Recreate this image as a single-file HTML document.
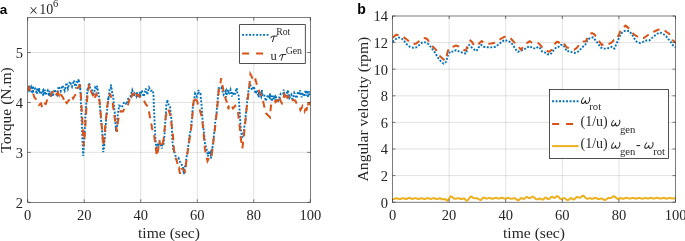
<!DOCTYPE html><html><head><meta charset="utf-8"><style>html,body{margin:0;padding:0;background:#fff;}
svg{display:block;will-change:transform}
.tk{font-family:"Liberation Serif",serif;font-size:14.5px;fill:#262626}
.lab{font-family:"Liberation Serif",serif;font-size:15.6px;fill:#262626}
.sup{font-family:"Liberation Serif",serif;font-size:10px;fill:#262626}
.pl{font-family:"Liberation Sans",sans-serif;font-size:14px;font-weight:bold;fill:#000}
.lgt{font-family:"Liberation Serif",serif;fill:#2a2a2a}
</style></head><body><svg width="685" height="241" viewBox="0 0 685 241">
<rect width="685" height="241" fill="#fff"/>
<defs><clipPath id="cl"><rect x="27.7" y="17.6" width="282.6" height="184.70000000000002"/></clipPath><clipPath id="cr"><rect x="392.5" y="16.0" width="283.0" height="186.2"/></clipPath></defs>
<line x1="84.22" y1="17.60" x2="84.22" y2="202.30" stroke="#262626" stroke-opacity="0.17" stroke-width="0.8"/>
<line x1="140.74" y1="17.60" x2="140.74" y2="202.30" stroke="#262626" stroke-opacity="0.17" stroke-width="0.8"/>
<line x1="197.26" y1="17.60" x2="197.26" y2="202.30" stroke="#262626" stroke-opacity="0.17" stroke-width="0.8"/>
<line x1="253.78" y1="17.60" x2="253.78" y2="202.30" stroke="#262626" stroke-opacity="0.17" stroke-width="0.8"/>
<line x1="27.70" y1="152.38" x2="310.30" y2="152.38" stroke="#262626" stroke-opacity="0.17" stroke-width="0.8"/>
<line x1="27.70" y1="102.46" x2="310.30" y2="102.46" stroke="#262626" stroke-opacity="0.17" stroke-width="0.8"/>
<line x1="27.70" y1="52.54" x2="310.30" y2="52.54" stroke="#262626" stroke-opacity="0.17" stroke-width="0.8"/>
<line x1="449.10" y1="16.00" x2="449.10" y2="202.20" stroke="#262626" stroke-opacity="0.17" stroke-width="0.8"/>
<line x1="505.70" y1="16.00" x2="505.70" y2="202.20" stroke="#262626" stroke-opacity="0.17" stroke-width="0.8"/>
<line x1="562.30" y1="16.00" x2="562.30" y2="202.20" stroke="#262626" stroke-opacity="0.17" stroke-width="0.8"/>
<line x1="618.90" y1="16.00" x2="618.90" y2="202.20" stroke="#262626" stroke-opacity="0.17" stroke-width="0.8"/>
<line x1="392.50" y1="175.60" x2="675.50" y2="175.60" stroke="#262626" stroke-opacity="0.17" stroke-width="0.8"/>
<line x1="392.50" y1="149.00" x2="675.50" y2="149.00" stroke="#262626" stroke-opacity="0.17" stroke-width="0.8"/>
<line x1="392.50" y1="122.40" x2="675.50" y2="122.40" stroke="#262626" stroke-opacity="0.17" stroke-width="0.8"/>
<line x1="392.50" y1="95.80" x2="675.50" y2="95.80" stroke="#262626" stroke-opacity="0.17" stroke-width="0.8"/>
<line x1="392.50" y1="69.20" x2="675.50" y2="69.20" stroke="#262626" stroke-opacity="0.17" stroke-width="0.8"/>
<line x1="392.50" y1="42.60" x2="675.50" y2="42.60" stroke="#262626" stroke-opacity="0.17" stroke-width="0.8"/>
<g clip-path="url(#cl)">
<polyline points="27.5,90.9 29.0,85.1 29.4,90.0 31.0,87.1 31.6,93.2 33.0,86.1 33.2,91.3 35.0,88.6 37.0,94.0 37.1,88.0 39.0,92.1 39.0,88.3 40.5,94.2 43.0,90.5 43.1,95.9 45.0,89.9 45.3,95.0 47.7,90.6 49.0,96.2 49.6,90.9 51.0,96.4 52.1,91.9 53.0,96.4 54.5,89.5 57.1,94.6 58.7,86.4 60.7,91.1 62.5,85.5 64.7,90.7 66.4,82.8 67.9,88.6 69.9,81.6 72.0,86.6 73.9,80.4 75.8,88.3 76.5,82.1 78.4,82.3 78.5,79.0 80.1,88.3 80.2,87.1 81.0,105.3 82.0,129.5 82.5,141.4 83.2,155.9 84.4,136.3 84.5,134.6 85.5,115.4 86.2,104.5 86.5,100.4 87.5,88.2 87.9,89.3 89.0,82.9 90.5,89.2 93.0,91.0 93.5,95.5 95.2,87.6 96.5,89.7 96.9,85.6 97.7,89.5 99.2,97.5 99.6,102.8 100.8,116.2 100.9,118.7 102.4,134.4 102.6,139.9 103.3,152.1 104.3,144.9 104.7,138.4 105.2,132.4 106.5,113.8 106.6,115.4 108.3,97.4 108.4,99.8 109.6,89.3 110.9,88.6 110.9,84.6 112.5,94.9 113.0,95.2 114.5,111.0 114.7,111.8 116.0,131.4 116.1,128.3 117.0,126.1 117.6,116.1 118.0,112.9 119.3,105.6 121.9,107.2 124.2,102.0 126.6,104.5 128.1,98.8 130.3,96.8 132.2,90.3 134.0,96.5 134.1,92.6 136.4,96.4 137.0,92.3 138.1,97.3 140.0,92.2 140.1,97.2 141.8,90.3 143.7,96.6 145.8,88.6 147.3,94.6 149.1,87.4 151.0,90.7 153.0,90.5 153.5,95.4 154.5,119.6 155.3,136.9 155.5,139.5 156.3,149.6 157.5,144.7 159.0,145.9 159.6,142.8 162.0,148.5 162.0,145.3 163.5,145.9 163.6,142.5 164.5,135.5 165.2,123.1 165.5,118.6 166.3,105.2 167.0,103.8 167.2,99.8 168.6,104.7 170.0,106.9 170.7,113.9 171.5,119.4 172.3,140.7 172.8,144.1 173.0,148.8 174.3,151.5 176.6,159.6 178.6,158.1 180.5,163.0 183.1,166.7 183.8,174.0 185.0,166.4 185.5,166.4 186.5,157.1 187.1,154.5 188.0,147.3 188.7,143.5 189.5,135.6 191.0,128.6 191.2,124.5 192.0,118.9 192.8,106.7 193.0,105.8 195.1,93.5 196.9,96.7 198.6,89.9 198.7,94.1 200.5,93.9 200.8,98.7 201.5,104.4 202.5,119.1 203.3,125.5 203.7,130.6 204.7,140.1 205.0,144.5 206.3,147.8 208.0,156.3 208.6,151.0 209.5,154.7 210.5,152.6 211.0,158.4 212.0,148.5 212.2,150.1 213.5,138.7 214.8,128.2 215.0,124.0 216.5,113.6 216.8,109.3 218.0,96.0 218.7,88.2 220.5,88.7 221.3,87.7 223.6,94.7 225.9,90.7 226.0,97.1 228.1,89.5 229.0,94.3 230.5,89.8 232.0,96.5 232.2,91.9 234.4,95.4 236.7,88.1 237.5,94.2 238.7,95.6 239.2,105.1 239.5,109.3 240.5,125.4 241.5,134.4 241.7,136.7 242.4,136.9 244.0,130.8 244.2,127.9 245.5,119.1 245.7,115.5 246.5,109.0 247.5,97.1 247.5,98.6 248.7,89.0 249.5,86.1 249.7,83.3 252.0,89.9 253.9,86.4 255.6,93.7 257.0,90.2 258.7,97.3 259.0,91.7 261.1,96.4 261.8,89.9 262.5,95.2 264.1,94.7 265.9,101.0 267.9,94.8 269.8,98.9 270.0,93.6 272.0,101.3 272.2,95.8 273.9,99.2 274.0,95.4 275.9,100.7 276.0,97.0 278.3,100.4 280.8,93.5 283.2,93.8 283.6,89.7 284.8,95.8 287.0,92.6 287.1,96.0 288.0,90.3 289.4,97.9 291.3,94.8 292.7,100.9 294.3,93.0 296.6,98.2 298.1,91.5 299.9,94.9 300.0,90.3 301.6,97.3 302.0,92.5 303.9,96.4 305.7,90.2 306.0,95.5 307.2,90.6 308.0,97.4 309.1,91.2 310.0,95.4" fill="none" stroke="#0072BD" stroke-width="1.9" stroke-dasharray="1.9 1.6" />
<polyline points="27.5,90.1 29.0,87.4 29.7,90.1 32.5,90.4 34.2,97.1 37.0,100.4 39.0,104.9 41.1,103.5 42.0,107.3 43.7,102.8 45.8,104.1 48.1,97.0 49.6,97.7 52.2,92.0 54.0,91.8 54.4,90.3 56.4,94.6 58.0,92.4 59.0,94.9 60.0,91.7 60.9,94.6 63.1,97.6 64.8,102.8 65.0,101.1 66.8,103.2 68.7,100.3 70.5,99.3 72.0,96.0 73.1,98.5 74.0,96.7 75.0,95.6 77.2,88.8 79.5,85.6 80.0,85.4 80.5,88.5 81.2,99.7 82.3,120.2 82.8,127.7 83.9,146.2 85.2,127.8 85.3,126.7 86.3,109.6 87.5,95.5 87.6,94.0 89.0,86.7 89.5,84.1 89.7,85.5 91.0,89.6 91.2,91.8 94.0,97.7 94.0,99.7 96.3,93.7 97.0,95.2 97.9,94.2 99.5,100.6 100.3,109.0 101.0,117.3 102.5,134.5 102.9,140.1 103.4,145.7 104.5,135.4 105.2,126.6 105.7,122.4 107.2,106.6 108.0,102.2 108.5,97.6 109.6,96.3 110.0,93.6 111.8,99.0 112.5,100.6 113.5,110.4 114.0,112.5 115.0,120.5 115.6,122.4 117.0,131.8 118.0,121.6 118.3,119.5 120.6,111.2 123.0,111.5 124.8,108.0 127.5,106.5 128.4,103.5 129.7,98.5 131.9,93.4 132.0,96.0 134.0,93.6 134.4,96.4 136.2,93.8 137.0,95.5 138.8,95.0 141.2,99.9 143.8,100.2 145.6,104.0 148.2,107.0 148.8,110.6 150.0,117.6 150.0,118.8 151.7,125.8 152.0,128.4 154.0,133.7 154.3,136.9 156.0,149.6 156.8,156.1 157.0,153.7 158.0,150.9 159.5,140.1 159.7,143.6 161.9,144.7 162.0,147.1 163.5,139.4 163.8,137.6 165.0,124.7 165.3,122.2 166.0,114.7 167.7,111.0 167.9,108.9 169.5,112.5 170.2,115.2 171.0,120.4 172.8,133.2 173.0,135.5 174.3,154.4 174.7,156.6 176.6,160.1 178.7,168.9 179.0,168.4 180.0,173.7 181.6,167.6 181.6,168.5 184.4,170.3 185.3,172.6 186.1,163.5 186.7,158.6 188.0,149.6 188.3,148.4 189.5,139.3 191.0,130.3 191.0,129.7 192.0,120.5 193.1,105.8 193.2,105.3 194.2,96.5 195.4,99.6 197.0,100.7 199.4,108.8 202.0,117.6 202.2,120.0 203.7,134.5 204.8,148.2 205.0,149.7 206.5,157.4 207.2,159.8 207.5,161.1 209.9,156.2 211.5,157.3 211.8,154.1 213.0,145.6 214.3,133.0 215.0,128.6 216.2,117.1 216.8,112.5 218.0,99.7 218.8,89.7 219.0,86.8 220.4,83.3 221.2,78.2 222.5,85.8 223.1,88.3 224.0,95.8 224.8,96.3 226.9,102.3 227.0,101.3 228.5,109.4 228.8,106.5 230.7,107.4 231.3,105.1 233.0,108.4 235.1,105.8 236.6,109.3 238.0,111.3 238.5,116.9 239.5,124.6 240.6,136.7 241.0,139.5 242.3,148.3 242.4,147.8 244.0,135.6 244.7,127.7 245.5,120.4 246.7,107.5 247.0,105.3 248.7,91.7 249.2,87.4 250.0,79.5 250.4,74.0 251.6,76.3 253.7,82.1 254.0,80.8 255.5,79.6 256.4,82.9 257.0,86.4 258.8,89.8 261.4,97.0 263.0,99.2 263.4,102.6 264.5,107.5 265.7,112.9 267.5,114.7 270.0,117.3 270.3,112.8 271.0,105.6 272.2,103.2 274.0,103.7 275.6,100.0 275.7,102.0 277.6,100.6 278.0,103.4 280.1,99.3 280.7,101.3 282.0,103.4 282.6,101.9 284.3,94.3 285.0,95.7 286.3,98.6 286.5,100.6 288.0,95.0 288.4,97.4 290.8,96.3 293.0,100.2 295.3,100.5 297.9,106.4 300.0,108.5 300.4,110.1 302.5,106.2 304.6,111.4 305.4,109.1 306.6,109.7 308.3,102.1 308.3,104.2 310.1,102.7 310.3,105.4" fill="none" stroke="#D95319" stroke-width="2.0" stroke-dasharray="6.8 5.4" />
</g>
<g clip-path="url(#cr)">
<polyline points="392.5,41.8 395.6,39.3 398.7,37.5 401.8,38.7 404.3,41.2 406.8,44.3 409.9,46.8 413.0,47.8 416.2,47.4 419.3,44.9 422.4,42.4 425.5,42.4 428.6,44.3 431.2,47.5 434.9,52.5 438.7,58.7 441.8,62.4 443.7,63.7 446.2,61.8 448.0,55.0 450.5,51.2 453.6,51.8 456.1,50.0 459.9,51.8 463.6,53.1 466.1,53.7 467.9,46.2 469.2,45.0 471.7,47.5 474.8,50.0 476.5,51.0 478.7,47.4 481.2,44.9 483.7,46.8 487.5,47.2 491.2,47.4 495.5,46.8 498.7,44.3 501.8,41.8 504.9,39.9 508.0,41.2 511.1,42.4 513.6,46.2 516.1,49.9 518.0,51.8 521.1,50.5 524.2,49.3 527.3,47.4 529.8,46.2 532.5,48.0 535.6,48.7 538.1,46.8 540.0,48.0 541.8,51.2 544.9,52.4 547.4,54.3 550.5,54.3 553.0,51.2 555.5,48.0 558.0,47.4 560.5,44.9 563.0,44.9 564.9,47.4 566.7,51.2 569.9,51.2 572.3,52.4 574.8,53.0 577.9,51.8 580.4,49.3 582.9,46.8 585.2,45.0 587.7,39.6 590.0,38.1 593.1,37.4 595.6,40.5 598.1,43.7 600.6,47.4 603.1,48.6 606.2,48.6 609.3,48.0 611.8,46.8 614.3,48.6 616.8,43.0 619.2,37.4 621.1,33.7 623.6,31.2 626.1,30.6 629.2,31.0 631.9,34.3 634.4,38.7 636.8,41.8 640.0,43.0 643.1,41.8 646.2,40.5 649.3,40.5 651.8,38.1 654.9,35.6 657.4,33.7 659.9,32.5 663.0,33.7 666.1,36.2 668.6,39.3 671.1,42.4 673.6,46.2 676.0,47.5" fill="none" stroke="#0072BD" stroke-width="1.9" stroke-dasharray="1.9 1.6" />
<polyline points="392.5,38.1 395.0,35.6 396.8,34.7 400.2,36.0 403.0,36.8 407.4,40.0 411.2,43.0 413.5,44.0 416.2,43.5 419.2,41.1 421.8,38.5 423.6,38.0 425.5,38.3 427.4,39.3 430.9,45.0 433.7,47.5 435.6,49.3 440.0,56.2 442.5,58.5 444.9,60.5 446.5,57.0 447.4,52.5 449.3,47.5 451.5,47.0 453.6,46.5 456.0,45.6 458.6,46.5 461.5,48.5 464.8,50.5 466.0,50.0 467.3,46.2 470.4,40.6 472.0,42.0 474.2,45.6 477.6,45.4 480.0,42.5 481.8,41.0 483.7,43.0 488.7,43.7 491.0,43.5 493.7,43.0 498.7,40.0 501.5,38.5 504.3,36.8 507.0,37.0 509.9,37.5 514.2,42.4 517.3,44.9 519.0,47.5 521.1,49.9 524.0,45.0 526.0,43.7 529.8,41.2 531.7,42.5 534.0,43.0 537.5,43.0 538.7,43.4 541.2,46.2 543.5,49.0 546.2,50.5 549.0,51.8 551.8,49.9 555.0,43.7 556.8,41.8 558.5,42.0 560.0,43.7 563.0,42.4 565.0,45.0 566.7,47.4 569.0,48.0 571.7,48.5 574.2,49.7 576.7,48.0 579.0,45.0 581.0,43.0 583.5,41.5 586.0,41.2 588.5,35.0 590.4,33.7 592.0,33.1 594.3,34.3 596.5,37.0 598.7,40.5 601.8,44.9 604.0,44.0 606.8,43.5 608.7,43.9 611.8,42.4 614.0,40.0 616.1,39.9 619.2,34.3 621.0,29.0 622.4,28.1 625.5,25.6 628.6,28.1 630.5,30.0 632.3,32.5 634.0,34.5 636.7,36.2 639.0,37.5 641.8,38.0 643.7,38.1 647.4,35.6 650.0,33.0 653.0,32.0 655.5,31.0 658.0,29.7 661.0,29.5 664.2,30.0 666.5,32.0 669.2,33.7 672.3,39.9 676.0,43.0" fill="none" stroke="#D95319" stroke-width="2.0" stroke-dasharray="6.8 5.4" stroke-dashoffset="-0.55"/>
<polyline points="392.5,198.8 393.0,199.0 393.5,199.0 394.0,199.0 394.5,198.9 395.0,198.7 395.5,198.5 396.0,198.3 396.5,198.3 397.0,198.3 397.5,198.4 398.0,198.6 398.5,198.8 399.0,199.0 399.5,199.1 400.0,199.1 400.5,199.0 401.0,198.8 401.5,198.6 402.0,198.4 402.5,198.3 403.0,198.2 403.5,198.3 404.0,198.4 404.5,198.6 405.0,198.7 405.5,198.9 406.0,198.9 406.5,198.9 407.0,198.7 407.5,198.5 408.0,198.3 408.5,198.1 409.0,198.0 409.5,198.0 410.0,198.1 410.5,198.3 411.0,198.5 411.5,198.7 412.0,198.8 412.5,198.9 413.0,198.8 413.5,198.6 414.0,198.5 414.5,198.3 415.0,198.2 415.5,198.2 416.0,198.2 416.5,198.4 417.0,198.5 417.5,198.8 418.0,199.0 418.5,199.1 419.0,199.0 419.5,198.9 420.0,198.7 420.5,198.5 421.0,198.3 421.5,198.3 422.0,198.3 422.5,198.5 423.0,198.6 423.5,198.8 424.0,199.0 424.5,199.0 425.0,198.9 425.5,198.8 426.0,198.6 426.5,198.4 427.0,198.3 427.5,198.2 428.0,198.1 428.5,198.2 429.0,198.4 429.5,198.6 430.0,198.8 430.5,198.9 431.0,198.9 431.5,198.8 432.0,198.6 432.5,198.4 433.0,198.2 433.5,198.2 434.0,198.2 434.5,198.3 435.0,198.5 435.5,198.7 436.0,198.9 436.5,199.0 437.0,199.0 437.5,199.0 438.0,198.8 438.5,198.6 439.0,198.4 439.5,198.3 440.0,198.3 440.5,198.5 441.0,198.8 441.5,199.0 442.0,199.2 442.5,199.3 443.0,199.3 443.5,199.2 444.0,199.0 444.5,199.1 445.0,199.2 445.5,199.4 446.0,199.7 446.5,200.1 447.0,200.6 447.5,200.2 448.0,199.8 448.5,199.3 449.0,198.7 449.5,198.0 450.0,197.3 450.5,196.5 451.0,196.4 451.5,196.6 452.0,196.9 452.5,197.2 453.0,197.7 453.5,198.2 454.0,198.7 454.5,198.8 455.0,198.8 455.5,198.8 456.0,198.8 456.5,198.6 457.0,198.4 457.5,198.3 458.0,198.2 458.5,198.2 459.0,198.3 459.5,198.5 460.0,198.7 460.5,199.0 461.0,199.1 461.5,199.1 462.0,199.0 462.5,198.9 463.0,198.7 463.5,198.5 464.0,198.4 464.5,198.7 465.0,199.1 465.5,199.6 466.0,200.2 466.5,200.7 467.0,200.6 467.5,200.2 468.0,199.7 468.5,199.2 469.0,198.6 469.5,197.9 470.0,197.3 470.5,196.8 471.0,196.5 471.5,196.7 472.0,197.1 472.5,197.5 473.0,197.8 473.5,198.0 474.0,198.2 474.5,198.2 475.0,198.2 475.5,198.2 476.0,198.2 476.5,198.3 477.0,198.3 477.5,198.5 478.0,198.7 478.5,199.0 479.0,199.3 479.5,199.6 480.0,199.8 480.5,200.0 481.0,200.0 481.5,199.4 482.0,198.9 482.5,198.3 483.0,197.8 483.5,197.5 484.0,197.6 484.5,197.8 485.0,198.1 485.5,198.3 486.0,198.5 486.5,198.5 487.0,198.5 487.5,198.4 488.0,198.3 488.5,198.1 489.0,198.0 489.5,198.0 490.0,198.0 490.5,198.2 491.0,198.3 491.5,198.5 492.0,198.7 492.5,198.7 493.0,198.7 493.5,198.6 494.0,198.4 494.5,198.2 495.0,198.0 495.5,197.9 496.0,197.9 496.5,197.9 497.0,198.1 497.5,198.3 498.0,198.5 498.5,198.6 499.0,198.6 499.5,198.5 500.0,198.4 500.5,198.2 501.0,198.0 501.5,197.8 502.0,197.8 502.5,197.9 503.0,198.1 503.5,198.3 504.0,198.5 504.5,198.6 505.0,198.6 505.5,198.6 506.0,198.5 506.5,198.3 507.0,198.1 507.5,197.9 508.0,197.9 508.5,198.0 509.0,198.1 509.5,198.3 510.0,198.5 510.5,198.6 511.0,198.8 511.5,198.8 512.0,198.7 512.5,198.6 513.0,198.4 513.5,198.3 514.0,198.2 514.5,198.2 515.0,198.3 515.5,198.6 516.0,199.0 516.5,199.4 517.0,199.8 517.5,200.0 518.0,200.2 518.5,200.2 519.0,199.9 519.5,199.4 520.0,199.0 520.5,198.3 521.0,198.1 521.5,198.0 522.0,198.2 522.5,198.5 523.0,198.8 523.5,198.9 524.0,198.8 524.5,198.6 525.0,198.1 525.5,197.6 526.0,197.3 526.5,197.0 527.0,197.0 527.5,197.1 528.0,197.5 528.5,197.8 529.0,198.1 529.5,198.2 530.0,198.2 530.5,198.0 531.0,197.6 531.5,197.1 532.0,196.9 532.5,196.7 533.0,196.7 533.5,196.9 534.0,197.2 534.5,197.7 535.0,198.3 535.5,198.8 536.0,199.1 536.5,199.3 537.0,199.3 537.5,199.2 538.0,199.1 538.5,198.9 539.0,198.8 539.5,198.5 540.0,198.5 540.5,198.7 541.0,199.0 541.5,199.3 542.0,199.5 542.5,199.6 543.0,199.5 543.5,199.2 544.0,198.7 544.5,198.1 545.0,197.7 545.5,197.6 546.0,197.7 546.5,198.0 547.0,198.4 547.5,198.8 548.0,199.0 548.5,199.1 549.0,198.9 549.5,198.6 550.0,198.2 550.5,197.6 551.0,197.2 551.5,197.0 552.0,196.9 552.5,197.0 553.0,197.2 553.5,197.5 554.0,197.7 554.5,197.8 555.0,197.7 555.5,197.4 556.0,196.9 556.5,196.4 557.0,196.3 557.5,196.3 558.0,196.4 558.5,196.8 559.0,197.4 559.5,198.0 560.0,198.6 560.5,198.9 561.0,199.1 561.5,199.2 562.0,199.0 562.5,198.7 563.0,198.3 563.5,198.1 564.0,198.0 564.5,198.1 565.0,198.4 565.5,198.8 566.0,199.2 566.5,199.6 567.0,199.9 567.5,200.1 568.0,200.1 568.5,199.9 569.0,199.4 569.5,199.0 570.0,198.6 570.5,198.3 571.0,198.2 571.5,198.3 572.0,198.6 572.5,199.0 573.0,199.3 573.5,199.4 574.0,199.3 574.5,199.1 575.0,198.7 575.5,198.1 576.0,197.6 576.5,197.2 577.0,197.0 577.5,197.0 578.0,197.1 578.5,197.3 579.0,197.6 579.5,197.7 580.0,197.7 580.5,197.5 581.0,197.2 581.5,196.6 582.0,196.2 582.5,195.9 583.0,195.6 583.5,195.9 584.0,196.3 584.5,196.8 585.0,197.3 585.5,197.8 586.0,198.3 586.5,198.6 587.0,198.8 587.5,198.8 588.0,198.6 588.5,198.4 589.0,198.2 589.5,198.2 590.0,198.2 590.5,198.3 591.0,198.5 591.5,198.7 592.0,198.8 592.5,198.8 593.0,198.7 593.5,198.5 594.0,198.2 594.5,198.0 595.0,197.8 595.5,197.9 596.0,197.9 596.5,198.2 597.0,198.5 597.5,198.7 598.0,198.9 598.5,198.9 599.0,199.0 599.5,198.9 600.0,198.8 600.5,198.7 601.0,198.6 601.5,198.6 602.0,198.7 602.5,198.9 603.0,199.2 603.5,199.5 604.0,199.8 604.5,200.0 605.0,200.0 605.5,199.8 606.0,199.5 606.5,199.1 607.0,198.8 607.5,198.5 608.0,198.2 608.5,198.1 609.0,198.1 609.5,198.0 610.0,198.0 610.5,198.0 611.0,197.9 611.5,197.7 612.0,197.4 612.5,197.0 613.0,196.6 613.5,196.2 614.0,196.3 614.5,196.6 615.0,196.9 615.5,197.3 616.0,197.8 616.5,198.2 617.0,198.6 617.5,198.8 618.0,199.0 618.5,198.8 619.0,198.6 619.5,198.3 620.0,198.2 620.5,198.1 621.0,198.2 621.5,198.3 622.0,198.5 622.5,198.7 623.0,198.7 623.5,198.7 624.0,198.6 624.5,198.4 625.0,198.2 625.5,198.0 626.0,197.9 626.5,197.8 627.0,197.8 627.5,198.0 628.0,198.1 628.5,198.4 629.0,198.5 629.5,198.6 630.0,198.6 630.5,198.5 631.0,198.4 631.5,198.2 632.0,198.0 632.5,197.9 633.0,197.9 633.5,197.9 634.0,198.0 634.5,198.3 635.0,198.5 635.5,198.6 636.0,198.7 636.5,198.6 637.0,198.4 637.5,198.3 638.0,198.1 638.5,198.0 639.0,197.9 639.5,197.9 640.0,198.0 640.5,198.2 641.0,198.4 641.5,198.6 642.0,198.7 642.5,198.7 643.0,198.6 643.5,198.4 644.0,198.1 644.5,198.0 645.0,197.9 645.5,197.9 646.0,198.0 646.5,198.2 647.0,198.4 647.5,198.6 648.0,198.6 648.5,198.6 649.0,198.4 649.5,198.2 650.0,198.0 650.5,197.9 651.0,197.8 651.5,197.9 652.0,198.0 652.5,198.2 653.0,198.4 653.5,198.6 654.0,198.6 654.5,198.5 655.0,198.4 655.5,198.2 656.0,198.0 656.5,197.9 657.0,197.8 657.5,197.8 658.0,197.9 658.5,198.1 659.0,198.3 659.5,198.5 660.0,198.6 660.5,198.6 661.0,198.5 661.5,198.4 662.0,198.2 662.5,198.0 663.0,197.9 663.5,197.9 664.0,197.9 664.5,198.0 665.0,198.2 665.5,198.5 666.0,198.6 666.5,198.7 667.0,198.6 667.5,198.5 668.0,198.3 668.5,198.1 669.0,198.0 669.5,197.9 670.0,197.9 670.5,198.0 671.0,198.1 671.5,198.3 672.0,198.5 672.5,198.6 673.0,198.6 673.5,198.6 674.0,198.4 674.5,198.2 675.0,198.0 675.5,197.8 676.0,197.8" fill="none" stroke="#EDB120" stroke-width="2.0" stroke-dasharray="none" />
</g>
<line x1="27.70" y1="202.30" x2="27.70" y2="199.30" stroke="#262626" stroke-width="0.6"/>
<line x1="27.70" y1="17.60" x2="27.70" y2="20.60" stroke="#262626" stroke-width="0.6"/>
<text x="27.70" y="220.40" text-anchor="middle" class="tk">0</text>
<line x1="84.22" y1="202.30" x2="84.22" y2="199.30" stroke="#262626" stroke-width="0.6"/>
<line x1="84.22" y1="17.60" x2="84.22" y2="20.60" stroke="#262626" stroke-width="0.6"/>
<text x="84.22" y="220.40" text-anchor="middle" class="tk">20</text>
<line x1="140.74" y1="202.30" x2="140.74" y2="199.30" stroke="#262626" stroke-width="0.6"/>
<line x1="140.74" y1="17.60" x2="140.74" y2="20.60" stroke="#262626" stroke-width="0.6"/>
<text x="140.74" y="220.40" text-anchor="middle" class="tk">40</text>
<line x1="197.26" y1="202.30" x2="197.26" y2="199.30" stroke="#262626" stroke-width="0.6"/>
<line x1="197.26" y1="17.60" x2="197.26" y2="20.60" stroke="#262626" stroke-width="0.6"/>
<text x="197.26" y="220.40" text-anchor="middle" class="tk">60</text>
<line x1="253.78" y1="202.30" x2="253.78" y2="199.30" stroke="#262626" stroke-width="0.6"/>
<line x1="253.78" y1="17.60" x2="253.78" y2="20.60" stroke="#262626" stroke-width="0.6"/>
<text x="253.78" y="220.40" text-anchor="middle" class="tk">80</text>
<line x1="310.30" y1="202.30" x2="310.30" y2="199.30" stroke="#262626" stroke-width="0.6"/>
<line x1="310.30" y1="17.60" x2="310.30" y2="20.60" stroke="#262626" stroke-width="0.6"/>
<text x="310.30" y="220.40" text-anchor="middle" class="tk">100</text>
<line x1="27.70" y1="202.30" x2="30.70" y2="202.30" stroke="#262626" stroke-width="0.6"/>
<line x1="310.30" y1="202.30" x2="307.30" y2="202.30" stroke="#262626" stroke-width="0.6"/>
<text x="23.10" y="207.60" text-anchor="end" class="tk">2</text>
<line x1="27.70" y1="152.38" x2="30.70" y2="152.38" stroke="#262626" stroke-width="0.6"/>
<line x1="310.30" y1="152.38" x2="307.30" y2="152.38" stroke="#262626" stroke-width="0.6"/>
<text x="23.10" y="157.68" text-anchor="end" class="tk">3</text>
<line x1="27.70" y1="102.46" x2="30.70" y2="102.46" stroke="#262626" stroke-width="0.6"/>
<line x1="310.30" y1="102.46" x2="307.30" y2="102.46" stroke="#262626" stroke-width="0.6"/>
<text x="23.10" y="107.76" text-anchor="end" class="tk">4</text>
<line x1="27.70" y1="52.54" x2="30.70" y2="52.54" stroke="#262626" stroke-width="0.6"/>
<line x1="310.30" y1="52.54" x2="307.30" y2="52.54" stroke="#262626" stroke-width="0.6"/>
<text x="23.10" y="57.84" text-anchor="end" class="tk">5</text>
<rect x="27.70" y="17.60" width="282.60" height="184.70" fill="none" stroke="#262626" stroke-width="0.6"/>
<text x="169.00" y="238.40" text-anchor="middle" class="lab">time (sec)</text>
<text transform="translate(11.00,109.95) rotate(-90)" text-anchor="middle" class="lab">Torque (N.m)</text>
<line x1="392.50" y1="202.20" x2="392.50" y2="199.20" stroke="#262626" stroke-width="0.6"/>
<line x1="392.50" y1="16.00" x2="392.50" y2="19.00" stroke="#262626" stroke-width="0.6"/>
<text x="392.50" y="220.30" text-anchor="middle" class="tk">0</text>
<line x1="449.10" y1="202.20" x2="449.10" y2="199.20" stroke="#262626" stroke-width="0.6"/>
<line x1="449.10" y1="16.00" x2="449.10" y2="19.00" stroke="#262626" stroke-width="0.6"/>
<text x="449.10" y="220.30" text-anchor="middle" class="tk">20</text>
<line x1="505.70" y1="202.20" x2="505.70" y2="199.20" stroke="#262626" stroke-width="0.6"/>
<line x1="505.70" y1="16.00" x2="505.70" y2="19.00" stroke="#262626" stroke-width="0.6"/>
<text x="505.70" y="220.30" text-anchor="middle" class="tk">40</text>
<line x1="562.30" y1="202.20" x2="562.30" y2="199.20" stroke="#262626" stroke-width="0.6"/>
<line x1="562.30" y1="16.00" x2="562.30" y2="19.00" stroke="#262626" stroke-width="0.6"/>
<text x="562.30" y="220.30" text-anchor="middle" class="tk">60</text>
<line x1="618.90" y1="202.20" x2="618.90" y2="199.20" stroke="#262626" stroke-width="0.6"/>
<line x1="618.90" y1="16.00" x2="618.90" y2="19.00" stroke="#262626" stroke-width="0.6"/>
<text x="618.90" y="220.30" text-anchor="middle" class="tk">80</text>
<line x1="675.50" y1="202.20" x2="675.50" y2="199.20" stroke="#262626" stroke-width="0.6"/>
<line x1="675.50" y1="16.00" x2="675.50" y2="19.00" stroke="#262626" stroke-width="0.6"/>
<text x="675.50" y="220.30" text-anchor="middle" class="tk">100</text>
<line x1="392.50" y1="202.20" x2="395.50" y2="202.20" stroke="#262626" stroke-width="0.6"/>
<line x1="675.50" y1="202.20" x2="672.50" y2="202.20" stroke="#262626" stroke-width="0.6"/>
<text x="387.90" y="207.50" text-anchor="end" class="tk">0</text>
<line x1="392.50" y1="175.60" x2="395.50" y2="175.60" stroke="#262626" stroke-width="0.6"/>
<line x1="675.50" y1="175.60" x2="672.50" y2="175.60" stroke="#262626" stroke-width="0.6"/>
<text x="387.90" y="180.90" text-anchor="end" class="tk">2</text>
<line x1="392.50" y1="149.00" x2="395.50" y2="149.00" stroke="#262626" stroke-width="0.6"/>
<line x1="675.50" y1="149.00" x2="672.50" y2="149.00" stroke="#262626" stroke-width="0.6"/>
<text x="387.90" y="154.30" text-anchor="end" class="tk">4</text>
<line x1="392.50" y1="122.40" x2="395.50" y2="122.40" stroke="#262626" stroke-width="0.6"/>
<line x1="675.50" y1="122.40" x2="672.50" y2="122.40" stroke="#262626" stroke-width="0.6"/>
<text x="387.90" y="127.70" text-anchor="end" class="tk">6</text>
<line x1="392.50" y1="95.80" x2="395.50" y2="95.80" stroke="#262626" stroke-width="0.6"/>
<line x1="675.50" y1="95.80" x2="672.50" y2="95.80" stroke="#262626" stroke-width="0.6"/>
<text x="387.90" y="101.10" text-anchor="end" class="tk">8</text>
<line x1="392.50" y1="69.20" x2="395.50" y2="69.20" stroke="#262626" stroke-width="0.6"/>
<line x1="675.50" y1="69.20" x2="672.50" y2="69.20" stroke="#262626" stroke-width="0.6"/>
<text x="387.90" y="74.50" text-anchor="end" class="tk">10</text>
<line x1="392.50" y1="42.60" x2="395.50" y2="42.60" stroke="#262626" stroke-width="0.6"/>
<line x1="675.50" y1="42.60" x2="672.50" y2="42.60" stroke="#262626" stroke-width="0.6"/>
<text x="387.90" y="47.90" text-anchor="end" class="tk">12</text>
<line x1="392.50" y1="16.00" x2="395.50" y2="16.00" stroke="#262626" stroke-width="0.6"/>
<line x1="675.50" y1="16.00" x2="672.50" y2="16.00" stroke="#262626" stroke-width="0.6"/>
<text x="387.90" y="21.30" text-anchor="end" class="tk">14</text>
<rect x="392.50" y="16.00" width="283.00" height="186.20" fill="none" stroke="#262626" stroke-width="0.6"/>
<text x="534.00" y="238.30" text-anchor="middle" class="lab">time (sec)</text>
<text transform="translate(367.50,109.10) rotate(-90)" text-anchor="middle" class="lab">Angular velocity (rpm)</text>
<text x="-0.2" y="13.8" class="pl" style="font-size:13.5px">a</text>
<text x="357.3" y="14" class="pl">b</text>
<text x="29.1" y="15.8" class="tk" style="font-size:16px">×</text><text x="39.2" y="14.1" class="tk" style="font-size:14px">10</text><text x="52.9" y="7.0" class="sup" style="font-size:10.5px">6</text>
<rect x="239.6" y="24.6" width="65.7" height="38.9" fill="#fff" stroke="#262626" stroke-width="0.8"/>
<line x1="242.1" y1="34.9" x2="268.6" y2="34.9" stroke="#0072BD" stroke-width="1.9" stroke-dasharray="1.9 1.6"/>
<line x1="242.1" y1="53.6" x2="268.6" y2="53.6" stroke="#D95319" stroke-width="2" stroke-dasharray="7 7"/>
<path d="M270.9 37.8 Q271.3 36.3 272.6 36.2 L277.1 36.0 M274.1 36.3 Q273.5 39.2 272.5 41.7" fill="none" stroke="#1a1a1a" stroke-width="0.95" stroke-linecap="round"/>
<text x="276.2" y="35.2" style="font-size:9.8px" class="lgt" text-anchor="start">Rot</text>
<text x="270.6" y="59.8" style="font-size:12.5px" class="lgt" text-anchor="start">u</text>
<path transform="translate(8.7,18.5)" d="M270.9 37.8 Q271.3 36.3 272.6 36.2 L277.1 36.0 M274.1 36.3 Q273.5 39.2 272.5 41.7" fill="none" stroke="#1a1a1a" stroke-width="0.95" stroke-linecap="round"/>
<text x="285.7" y="53.5" style="font-size:9.8px" class="lgt" text-anchor="start">Gen</text>
<rect x="549.6" y="89.4" width="118.9" height="69.1" fill="#fff" stroke="#262626" stroke-width="0.8"/>
<line x1="552.1" y1="101.3" x2="578.6" y2="101.3" stroke="#0072BD" stroke-width="1.9" stroke-dasharray="1.9 1.6"/>
<line x1="552.1" y1="123.9" x2="578.6" y2="123.9" stroke="#D95319" stroke-width="2" stroke-dasharray="7 7"/>
<line x1="552.1" y1="146.1" x2="578.6" y2="146.1" stroke="#EDB120" stroke-width="2"/>
<path transform="translate(580.40,103.40) skewX(-12) translate(-581.00,-103.40)" d="M582.90 97.80 C581.20 99.70 581.20 103.40 583.40 103.40 C584.80 103.40 585.40 101.90 585.50 100.40 C585.60 102.10 586.30 103.40 587.50 103.40 C589.70 103.40 590.20 99.30 588.90 97.70" fill="none" stroke="#1a1a1a" stroke-width="0.95" stroke-linecap="round"/>
<text x="589.3" y="110.3" style="font-size:10.7px" class="lgt" text-anchor="start">rot</text>
<text x="580.5" y="126.0" style="font-size:14px" class="lgt" text-anchor="start">(1/u)</text>
<path transform="translate(610.50,125.90) skewX(-12) translate(-611.10,-125.90)" d="M613.00 120.30 C611.30 122.20 611.30 125.90 613.50 125.90 C614.90 125.90 615.50 124.40 615.60 122.90 C615.70 124.60 616.40 125.90 617.60 125.90 C619.80 125.90 620.30 121.80 619.00 120.20" fill="none" stroke="#1a1a1a" stroke-width="0.95" stroke-linecap="round"/>
<text x="620.0" y="132.7" style="font-size:10.7px" class="lgt" text-anchor="start">gen</text>
<text x="580.5" y="148.3" style="font-size:14px" class="lgt" text-anchor="start">(1/u)</text>
<path transform="translate(610.50,148.30) skewX(-12) translate(-611.10,-148.30)" d="M613.00 142.70 C611.30 144.60 611.30 148.30 613.50 148.30 C614.90 148.30 615.50 146.80 615.60 145.30 C615.70 147.00 616.40 148.30 617.60 148.30 C619.80 148.30 620.30 144.20 619.00 142.60" fill="none" stroke="#1a1a1a" stroke-width="0.95" stroke-linecap="round"/>
<text x="620.0" y="155.0" style="font-size:10.7px" class="lgt" text-anchor="start">gen</text>
<text x="636.0" y="148.5" style="font-size:14px" class="lgt" text-anchor="start">-</text>
<path transform="translate(643.70,148.30) skewX(-12) translate(-644.30,-148.30)" d="M646.20 142.70 C644.50 144.60 644.50 148.30 646.70 148.30 C648.10 148.30 648.70 146.80 648.80 145.30 C648.90 147.00 649.60 148.30 650.80 148.30 C653.00 148.30 653.50 144.20 652.20 142.60" fill="none" stroke="#1a1a1a" stroke-width="0.95" stroke-linecap="round"/>
<text x="653.2" y="155.3" style="font-size:10.7px" class="lgt" text-anchor="start">rot</text>
</svg></body></html>
